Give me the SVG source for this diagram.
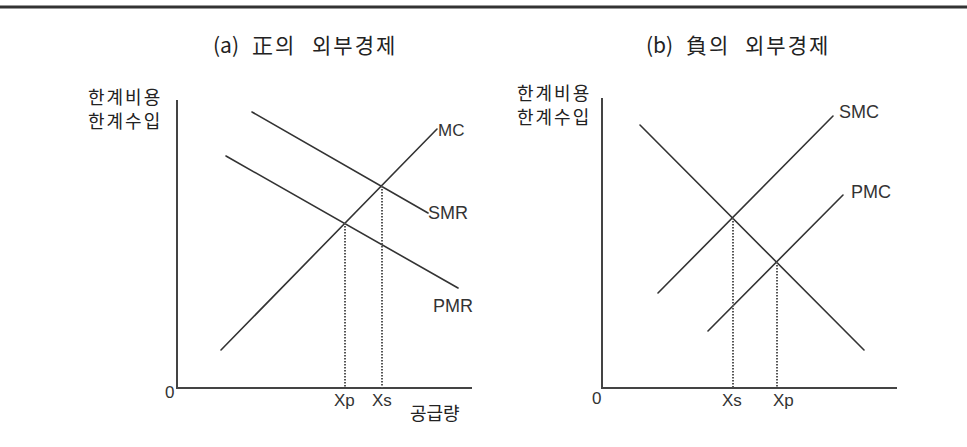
<svg xmlns="http://www.w3.org/2000/svg" width="967" height="447" viewBox="0 0 967 447">
<style>
.bg{fill:#ffffff}
.rule{stroke:#333;stroke-width:3}
.axis{stroke:#444;stroke-width:2;fill:none}
.curve{stroke:#333;stroke-width:1.6;fill:none;stroke-linecap:round}
.drop{stroke:#555;stroke-width:2;stroke-dasharray:1.5 1.5;fill:none}
.kr{font-family:"Noto Sans CJK KR","Noto Sans",sans-serif;fill:#222}
.title{font-size:21px;letter-spacing:2px}
.paren{font-family:"Noto Sans CJK KR","Noto Sans",sans-serif;fill:#222;font-size:21px}
.ylab{font-size:18px;letter-spacing:2px}
.lat{font-family:"Liberation Sans",Arial,sans-serif;fill:#333;font-size:17px}
.big{font-size:18px}
</style>
<rect class="bg" x="0" y="0" width="967" height="447"/>
<line class="rule" x1="0" y1="7" x2="967" y2="7"/>

<g id="panel-a">
  <g id="title-a">
    <text class="paren" x="213" y="53">(a)</text>
    <text class="kr title" x="252" y="53">正의</text>
    <text class="kr title" x="312" y="53">외부경제</text>
  </g>
  <g id="axes-a">
    <polyline class="axis" points="177,100 177,388 472,388"/>
    <text class="kr ylab" x="88" y="104">한계비용</text>
    <text class="kr ylab" x="88" y="128">한계수입</text>
    <text class="lat" x="165" y="398">0</text>
    <text class="kr" x="410" y="420" style="font-size:18px">공급량</text>
  </g>
  <g id="MC">
    <line class="curve" x1="221" y1="350" x2="437" y2="129"/>
    <text class="lat" x="438" y="136">MC</text>
  </g>
  <g id="SMR">
    <line class="curve" x1="252" y1="112" x2="428" y2="213"/>
    <text class="lat big" x="428" y="219">SMR</text>
  </g>
  <g id="PMR">
    <line class="curve" x1="226" y1="156" x2="458" y2="288"/>
    <text class="lat big" x="433" y="312">PMR</text>
  </g>
  <g id="Xp-a">
    <text class="lat" x="334" y="406">Xp</text>
  </g>
  <g id="Xs-a">
    <text class="lat" x="372" y="406">Xs</text>
  </g>
</g>

<g id="panel-b">
  <g id="title-b">
    <text class="paren" x="646" y="53">(b)</text>
    <text class="kr title" x="686" y="53">負의</text>
    <text class="kr title" x="745" y="53">외부경제</text>
  </g>
  <g id="axes-b">
    <polyline class="axis" points="602,98 602,388 897,388"/>
    <text class="kr ylab" x="517" y="100">한계비용</text>
    <text class="kr ylab" x="517" y="124">한계수입</text>
    <text class="lat" x="592" y="404">0</text>
  </g>
  <g id="MR-b">
    <line class="curve" x1="640" y1="125" x2="864" y2="350"/>
  </g>
  <g id="SMC">
    <line class="curve" x1="658" y1="293" x2="833" y2="116"/>
    <text class="lat big" x="839" y="118">SMC</text>
  </g>
  <g id="PMC">
    <line class="curve" x1="708" y1="331" x2="843" y2="195"/>
    <text class="lat big" x="851" y="198">PMC</text>
  </g>
  <g id="Xs-b">
    <text class="lat" x="722" y="406">Xs</text>
  </g>
  <g id="Xp-b">
    <text class="lat" x="773" y="406">Xp</text>
  </g>
</g>

<g id="connectors">
  <line class="drop" x1="345" y1="223" x2="345" y2="388"/>
  <line class="drop" x1="382" y1="186" x2="382" y2="388"/>
  <line class="drop" x1="733" y1="218" x2="733" y2="388"/>
  <line class="drop" x1="777" y1="262" x2="777" y2="388"/>
</g>
</svg>
